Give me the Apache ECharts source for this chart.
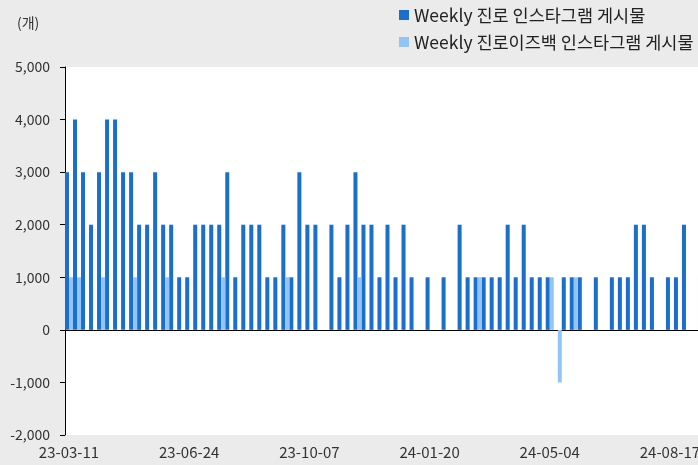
<!DOCTYPE html>
<html><head><meta charset="utf-8">
<script src="https://cdn.jsdelivr.net/npm/echarts@6/dist/echarts.min.js"></script>
<style>html,body{margin:0;padding:0;background:#ebebeb;}#c{width:698px;height:465px;}</style>
</head><body><div id="c"></div>
<script>
const categories = [
  '23-03-11','23-03-18','23-03-25','23-04-01','23-04-08','23-04-15','23-04-22','23-04-29','23-05-06','23-05-13',
  '23-05-20','23-05-27','23-06-03','23-06-10','23-06-17','23-06-24','23-07-01','23-07-08','23-07-15','23-07-22',
  '23-07-29','23-08-05','23-08-12','23-08-19','23-08-26','23-09-02','23-09-09','23-09-16','23-09-23','23-09-30',
  '23-10-07','23-10-14','23-10-21','23-10-28','23-11-04','23-11-11','23-11-18','23-11-25','23-12-02','23-12-09',
  '23-12-16','23-12-23','23-12-30','24-01-06','24-01-13','24-01-20','24-01-27','24-02-03','24-02-10','24-02-17',
  '24-02-24','24-03-02','24-03-09','24-03-16','24-03-23','24-03-30','24-04-06','24-04-13','24-04-20','24-04-27',
  '24-05-04','24-05-11','24-05-18','24-05-25','24-06-01','24-06-08','24-06-15','24-06-22','24-06-29','24-07-06',
  '24-07-13','24-07-20','24-07-27','24-08-03','24-08-10','24-08-17','24-08-24','24-08-31','24-09-07','24-09-14'
];
const jinroPosts = [
  3000,4000,3000,2000,3000,4000,4000,3000,3000,2000,
  2000,3000,2000,2000,1000,1000,2000,2000,2000,2000,
  3000,1000,2000,2000,2000,1000,1000,2000,1000,3000,
  2000,2000,null,2000,1000,2000,3000,2000,2000,1000,
  2000,1000,2000,1000,null,1000,null,1000,null,2000,
  1000,1000,1000,1000,1000,2000,1000,2000,1000,1000,
  1000,null,1000,1000,1000,null,1000,null,1000,1000,
  1000,2000,2000,1000,null,1000,1000,2000,null,1000
];
const isBackPosts = [
  1000,1000,null,null,1000,null,null,null,1000,null,
  null,null,1000,null,null,null,null,null,null,1000,
  null,null,null,null,null,null,null,1000,null,null,
  null,null,null,null,null,null,1000,null,null,null,
  null,null,null,null,null,null,null,null,null,null,
  null,1000,null,null,null,null,null,null,null,null,
  1000,-1000,null,1000,null,null,null,null,null,null,
  null,null,null,null,null,null,null,null,null,null
];
const seriesNames = ['Weekly 진로 인스타그램 게시물', 'Weekly 진로이즈백 인스타그램 게시물'];
const unitLabel = '(개)';
const yMin = -2000, yMax = 5000, yStep = 1000;
const labelEvery = 15;

const chart = echarts.init(document.getElementById('c'), null, {renderer: 'canvas'});
const font = '"Noto Sans CJK KR", "Noto Sans", sans-serif';
chart.setOption({
  backgroundColor: '#ebebeb',
  animation: false,
  textStyle: {fontFamily: font},
  title: {text: unitLabel, left: 17, top: 16, padding: 0,
    textStyle: {fontSize: 14, fontWeight: 'normal', color: '#333', fontFamily: font}},
  legend: {orient: 'vertical', left: 399, top: 6, itemWidth: 10, itemHeight: 10, itemGap: 9,
    icon: 'rect', padding: 0, selectedMode: false,
    textStyle: {fontSize: 17.5, color: '#222', lineHeight: 18, fontFamily: font},
    data: seriesNames},
  grid: {left: 65, top: 67, width: 641, bottom: 30, show: true, backgroundColor: '#fff', borderWidth: 0,
    outerBoundsMode: 'none', containLabel: false},
  xAxis: [
    {type: 'category', data: categories, boundaryGap: true,
      axisLine: {onZero: true, lineStyle: {color: '#000', width: 1}},
      axisTick: {interval: labelEvery - 1, length: 5, lineStyle: {color: '#000'}},
      axisLabel: {show: false}, splitLine: {show: false}},
    {type: 'category', data: categories, position: 'bottom', boundaryGap: true,
      axisLine: {show: false, onZero: false}, axisTick: {show: false}, splitLine: {show: false},
      axisLabel: {interval: labelEvery - 1, fontSize: 15, color: '#333', margin: 10, fontFamily: font,
        hideOverlap: false}}
  ],
  yAxis: {type: 'value', min: yMin, max: yMax, interval: yStep,
    axisLine: {show: true, lineStyle: {color: '#000', width: 1}},
    axisTick: {show: true, length: 5, lineStyle: {color: '#000'}},
    splitLine: {show: false},
    axisLabel: {fontSize: 14, color: '#333', margin: 15, fontFamily: font,
      formatter: v => v.toLocaleString('en-US')}},
  series: [
    {name: seriesNames[0], type: 'bar', xAxisIndex: 0, data: jinroPosts,
      barWidth: '50%', barGap: '0%', itemStyle: {color: '#1a6fcc'}},
    {name: seriesNames[1], type: 'bar', xAxisIndex: 0, data: isBackPosts,
      barWidth: '50%', barGap: '0%', itemStyle: {color: '#92c5f5'}}
  ]
});
</script></body></html>
